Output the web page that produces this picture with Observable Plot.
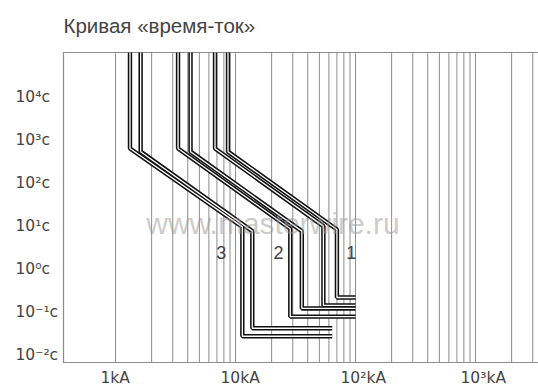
<!DOCTYPE html>
<html>
<head>
<meta charset="utf-8">
<script src="https://cdn.jsdelivr.net/npm/d3@7"></script>
<script src="https://cdn.jsdelivr.net/npm/@observablehq/plot@0.6"></script>
<style>
  html, body { margin: 0; padding: 0; background: white; }
</style>
</head>
<body>
<div id="chart"></div>
<script>
// ---- data ----
const title = "Кривая «время-ток»";
const watermark = "www.masterwire.ru";

// current axis (kA), log scale
const xDomain = [0.3686, 3350];
// time axis (s), log scale
const yDomain = [0.00687, 111300];

const xGrid = [1,2,3,4,5,6,7,8,9,10,20,30,40,50,60,70,80,90,100,200,300,400,500,600,700,800,900,1000,2000,3000];
const xTicks = [1, 10, 100, 1000];
const xTickLabels = ["1kA", "10kA", "10²kA", "10³kA"];
const yTicks = [1e4, 1e3, 1e2, 1e1, 1e0, 1e-1, 1e-2];
const yTickLabels = ["10⁴с", "10³с", "10²с", "10¹с", "10⁰с", "10⁻¹с", "10⁻²с"];

const yTop = 111300;
// curve 3 (lower / upper boundary): [current kA, time s]
const curve3Lower = [[1.32, yTop], [1.32, 650], [11.4, 9.8], [11.4, 0.028], [64, 0.028]];
const curve3Upper = [[1.62, yTop], [1.62, 550], [13.8, 7.8], [13.8, 0.043], [64, 0.043]];
// curve 2
const curve2Lower = [[3.32, yTop], [3.32, 650], [28.6, 8.9], [28.6, 0.08], [100, 0.08]];
const curve2Upper = [[4.22, yTop], [4.22, 550], [35.7, 7.8], [35.7, 0.124], [100, 0.124]];
// curve 1
const curve1Lower = [[6.75, yTop], [6.75, 650], [54, 10.2], [54, 0.146], [100, 0.146]];
const curve1Upper = [[8.66, yTop], [8.66, 550], [70, 8.5], [70, 0.223], [100, 0.223]];

const curveLabels = ["3", "2", "1"];
const curveLabelX = [7.6, 22.8, 92];
const curveLabelY = [2.35, 2.35, 2.35];
const watermarkX = [20.5];
const watermarkY = [11.2];

// ---- chart ----
const boundaries = [curve3Lower, curve3Upper, curve2Lower, curve2Upper, curve1Lower, curve1Upper];
const tubeMarks = [];
for (const b of boundaries) {
  tubeMarks.push(Plot.line(b, {x: d => d[0], y: d => d[1], stroke: "#111", strokeWidth: 4.4, strokeLinejoin: "miter", strokeLinecap: "butt"}));
}
for (const b of boundaries) {
  tubeMarks.push(Plot.line(b, {x: d => d[0], y: d => d[1], stroke: "white", strokeWidth: 1.3, strokeLinejoin: "miter", strokeLinecap: "butt"}));
}

const chart = Plot.plot({
  width: 538,
  height: 387,
  marginLeft: 63,
  marginTop: 52,
  marginRight: 0,
  marginBottom: 25,
  x: {type: "log", domain: xDomain, axis: null},
  y: {type: "log", domain: yDomain, axis: null},
  style: {background: "white", fontFamily: "'DejaVu Sans', sans-serif"},
  marks: [
    Plot.ruleX(xGrid, {stroke: "#8c8c8c", strokeWidth: 1}),
    Plot.ruleX([xDomain[0]], {stroke: "#8c8c8c", strokeWidth: 1.2}),
    Plot.ruleY([yDomain[0], yDomain[1]], {stroke: "#8c8c8c", strokeWidth: 1.2}),
    ...tubeMarks,
    Plot.text(curveLabels, {
      x: (d, i) => curveLabelX[i], y: (d, i) => curveLabelY[i], text: d => d,
      fontFamily: "'Liberation Sans', Arial, sans-serif", fontSize: 18, fill: "#444"
    }),
    Plot.text([watermark], {
      x: (d, i) => watermarkX[i], y: (d, i) => watermarkY[i], text: d => d,
      fontFamily: "'Liberation Sans', Arial, sans-serif", fontSize: 30, fill: "#999", fillOpacity: 0.5
    }),
    Plot.text(yTicks, {
      y: d => d, frameAnchor: "left", dx: -48, textAnchor: "start", lineAnchor: "middle",
      text: (d, i) => yTickLabels[i], fontSize: 15.5, fill: "#444"
    }),
    Plot.text(xTicks, {
      x: d => d, frameAnchor: "bottom", dx: -15, dy: 16, textAnchor: "start", lineAnchor: "middle",
      text: (d, i) => xTickLabels[i], fontSize: 15.5, fill: "#444"
    }),
    Plot.text([title], {
      frameAnchor: "top-left", dy: -20, textAnchor: "start", lineAnchor: "bottom",
      text: d => d, fontFamily: "'Liberation Sans', Arial, sans-serif", fontSize: 20.5, fill: "#444"
    })
  ]
});
document.getElementById("chart").appendChild(chart);
</script>
</body>
</html>
